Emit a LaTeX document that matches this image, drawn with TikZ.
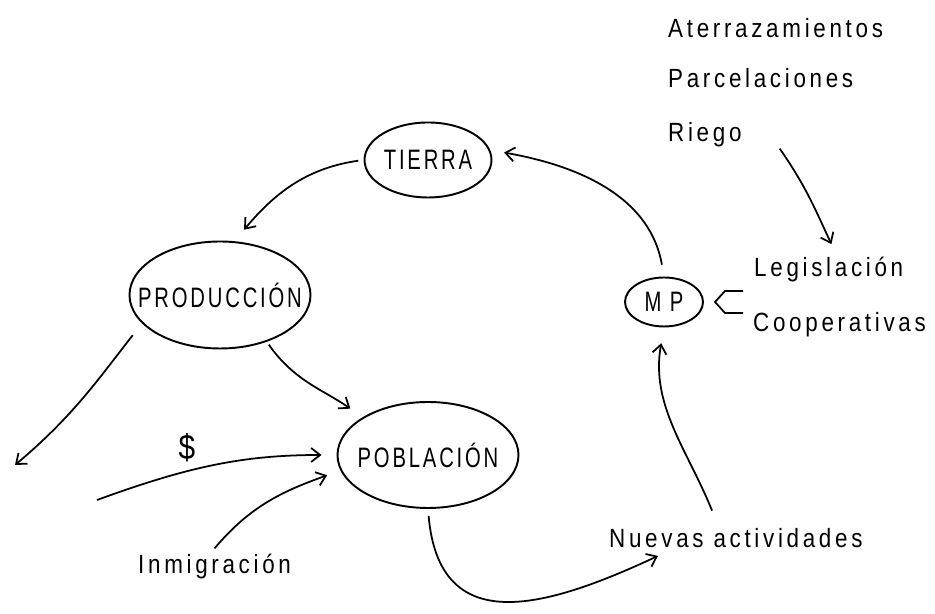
\documentclass[tikz,border=0pt]{standalone}
\usepackage{fontspec}
\setmainfont{Liberation Sans}[FakeStretch=0.85,LetterSpace=14]
\newfontfamily\capsfont{Liberation Sans}[FakeStretch=0.72,LetterSpace=10]
\usepackage{tikz}
\usetikzlibrary{shapes.geometric}
\usetikzlibrary{arrows.meta}

\begin{document}
\begin{tikzpicture}[>={Straight Barb[length=1.8mm,width=2.8mm]},
	zone/.style={ellipse,draw,line width=1.1pt,inner xsep=-25pt,inner ysep=0pt,font=\fontsize{16}{19}\capsfont},
	lbl/.style={anchor=base west,font=\fontsize{15}{18}\selectfont},
	flow/.style={->,line width=1pt}]
	\useasboundingbox (0,0) rectangle (18.7,12.28);

	\node[zone,minimum width=2.54cm,minimum height=1.5cm](tierra) at (8.56,9.08) {TIERRA};
	\node[zone,minimum width=3.62cm,minimum height=2.14cm](produccion) at (4.40,6.38) {PRODUCCIÓN};
	\node[zone,minimum width=3.62cm,minimum height=2.12cm](poblacion) at (8.56,3.18) {POBLACIÓN};
	\node[zone,minimum width=1.56cm,minimum height=0.98cm](mp) at (13.28,6.24) {M P};

	\node[lbl](aterr) at (13.24,11.52) {Aterrazamientos};
	\node[lbl](parcel) at (13.24,10.52) {Parcelaciones};
	\node[lbl](riego) at (13.24,9.44) {Riego};
	\node[lbl](legis) at (14.96,6.74) {Legislación};
	\node[lbl](coop) at (14.94,5.64) {Cooperativas};
	\node[lbl](nuevas) at (12.06,1.32) {Nuevas actividades};
	\node[lbl](inmig) at (2.64,0.80) {Inmigración};
	\node[font=\fontsize{20}{24}\selectfont](dollar) at (3.74,3.32) {\$};

	\coordinate (salida) at (0.30,2.98);
	\coordinate (capital) at (1.94,2.28);
	\coordinate (brace) at (14.30,6.24);

	\draw[flow,shorten <=3pt,shorten >=0.3cm] (tierra.west) to[out=188,in=50] (produccion.75);
	\draw[flow,shorten <=2pt,shorten >=0.3cm] (produccion.-45) to[out=-55,in=145] (poblacion.150);
	\draw[flow,shorten <=0.3cm] (produccion.200) to[out=232,in=40] (salida);
	\draw[flow,shorten >=0.3cm] (capital) to[out=20,in=180] (poblacion.180);
	\draw[flow,shorten >=0.28cm] (inmig.north) to[out=50,in=200] (poblacion.190);
	\draw[flow,shorten <=0.14cm,shorten >=2pt] (poblacion.south) to[out=-85,in=205,looseness=1.4] (nuevas.192);
	\draw[flow,shorten <=0.26cm,shorten >=0.32cm] (nuevas.140) to[out=112,in=-100] (mp.south);
	\draw[flow,shorten <=0.24cm,shorten >=0.28cm] (mp.north) to[out=100,in=-10] (tierra.9);
	\draw[flow,shorten >=0.16cm] ([xshift=0.64cm,yshift=0.1cm]riego.south east) to[out=-55,in=115] (legis.72);
	\draw[line width=1pt] (brace) ++(0.56,0.22) -- ++(-0.36,0) -- (brace) -- ++(0.2,-0.22) -- ++(0.36,0);
\end{tikzpicture}
\end{document}
